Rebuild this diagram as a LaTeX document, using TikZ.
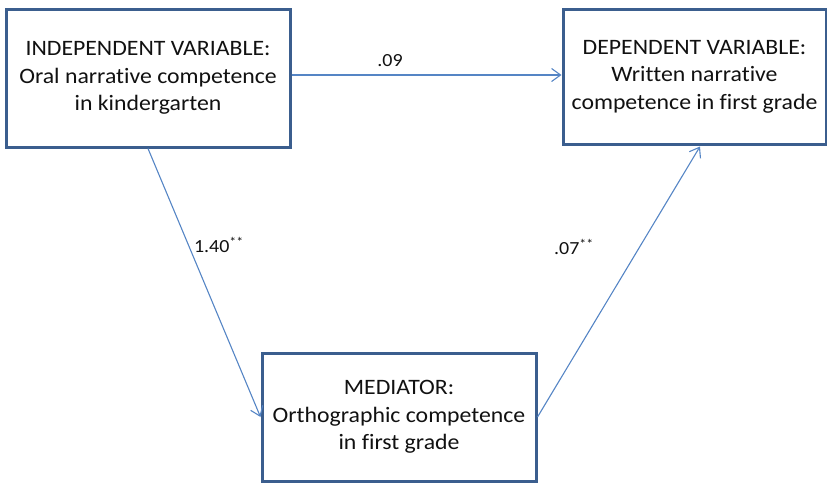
\documentclass[tikz,border=0pt]{standalone}
\usepackage{fontspec}
\setmainfont{Carlito}[FakeStretch=1.08,Ligatures=NoCommon]
\usetikzlibrary{arrows.meta,calc}
\definecolor{boxblue}{HTML}{3B5E8E}
\definecolor{arrowblue}{HTML}{5585C5}
\definecolor{txt}{HTML}{111111}
\tikzset{
  varbox/.style={draw=boxblue, line width=3pt, fill=white, align=center, text=txt,
    font=\fontsize{22}{27.5}\selectfont, inner sep=0pt},
  link/.style={draw=arrowblue, line width=1.1pt, -{Straight Barb[length=9pt,width=13pt,line width=1.1pt]}},
  coef/.style={text=txt, font=\fontsize{18.5}{20}\selectfont, inner sep=0pt}
}
\begin{document}
\begin{tikzpicture}[x=1pt,y=-1pt]
\useasboundingbox (0,0) rectangle (827,483);
\node[varbox, minimum width=284pt, minimum height=138pt] (L) at (148,78)
  {INDEPENDENT VARIABLE:\\Oral narrative competence\\in kindergarten};
\node[varbox, minimum width=263pt, minimum height=135pt] (R) at (694.5,76.5)
  {DEPENDENT VARIABLE:\\Written narrative\\competence in first grade};
\node[varbox, minimum width=274pt, minimum height=128pt] (M) at (399,417)
  {MEDIATOR:\\Orthographic competence\\in first grade};
\coordinate (Rin) at ($(R.south)+(5.5,1)$);
\draw[link] (L.east |- 0,75) -- (R.west |- 0,75);
\draw[link] (L.south) -- (M.west);
\draw[link] (M.east) -- (Rin);
\node[coef] (c1) at (390,61) {.09};
\node[coef] (c2) at (219,245) {1.40\textsuperscript{**}};
\node[coef] (c3) at (574,247) {.07\textsuperscript{**}};
\end{tikzpicture}
\end{document}
